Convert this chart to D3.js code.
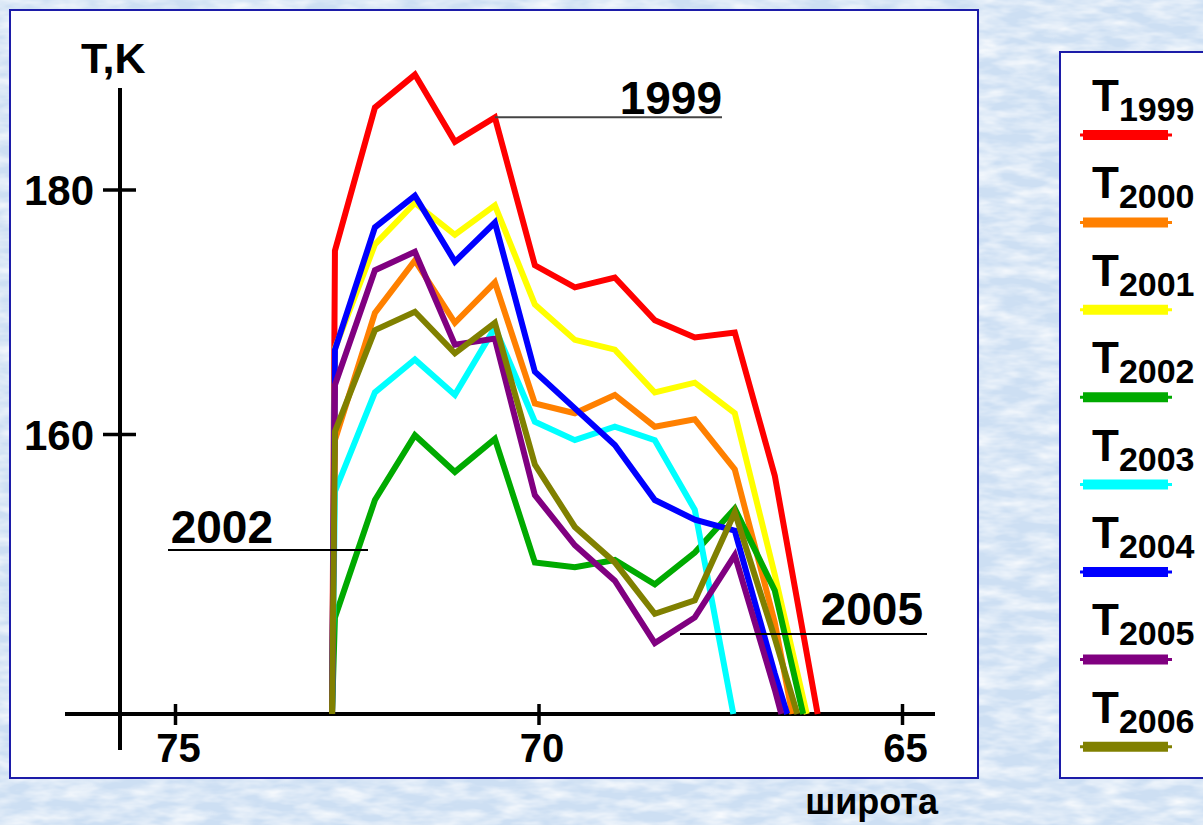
<!DOCTYPE html>
<html>
<head>
<meta charset="utf-8">
<script src="https://cdn.jsdelivr.net/npm/d3@7/dist/d3.min.js"></script>
<style>
  html, body { margin: 0; padding: 0; background: #d3e3f5; }
  svg { display: block; }
  text { font-family: "Liberation Sans", Arial, sans-serif; font-weight: bold; fill: #000; }
</style>
</head>
<body>
<svg id="chart" width="1203" height="825"></svg>
<script>
// Latitude nodes (degrees N) shared by all yearly temperature profiles
const latNodes = [72.8, 72.25, 71.7, 71.15, 70.6, 70.05, 69.5, 68.95, 68.4, 67.85, 67.3, 66.75];

// Yearly temperature profiles, K (null = no value at that node)
const t1999 = [175.0, 186.7, 189.4, 183.9, 185.9, 173.8, 172.0, 172.8, 169.3, 167.9, 168.3, 156.6];
const t2000 = [159.5, 169.9, 174.2, 169.1, 172.4, 162.5, 161.7, 163.2, 160.6, 161.2, 157.1, 144.6];
const t2001 = [167.0, 175.5, 178.9, 176.3, 178.7, 170.6, 167.7, 166.9, 163.4, 164.2, 161.7, 148.5];
const t2002 = [145.0, 154.6, 159.9, 156.9, 159.6, 149.5, 149.1, 149.7, 147.7, 150.3, 153.9, 147.2];
const t2003 = [155.3, 163.4, 166.1, 163.2, 168.7, 161.0, 159.5, 160.6, 159.5, 153.8, null, null];
const t2004 = [166.9, 176.9, 179.5, 174.1, 177.3, 165.1, 162.1, 159.1, 154.6, 153.0, 152.1, 140.4];
const t2005 = [164.0, 173.4, 174.9, 167.3, 167.8, 155.0, 150.9, 148.0, 142.9, 145.0, 150.1, 139.1];
const t2006 = [160.2, 168.5, 170.0, 166.6, 169.1, 157.5, 152.4, 149.5, 145.3, 146.4, 153.6, 143.3];

const years = ["1999", "2000", "2001", "2002", "2003", "2004", "2005", "2006"];
const profiles = [t1999, t2000, t2001, t2002, t2003, t2004, t2005, t2006];

// Where each profile leaves / rejoins the bottom of the temperature range
const startLat = 72.84;
const endLats = [66.16, 66.51, 66.31, 66.36, 67.32, 66.58, 66.66, 66.44];

// Axis ticks
const xTicks = [75, 70, 65];
const yTicks = [160, 180];
const tMin = 137.1;

const colors = ["#ff0000", "#ff8000", "#ffff00", "#00aa00", "#00ffff", "#0000ff", "#800080", "#808000"];

const svg = d3.select("#chart");

// ---- textured light-blue backdrop ----
const defs = svg.append("defs");
const f = defs.append("filter").attr("id", "paper").attr("x", 0).attr("y", 0).attr("width", "100%").attr("height", "100%");
f.append("feTurbulence").attr("type", "fractalNoise").attr("baseFrequency", "0.03 0.09")
  .attr("numOctaves", 3).attr("seed", 7).attr("result", "n");
f.append("feColorMatrix").attr("in", "n").attr("type", "matrix")
  .attr("values", "0 0 0 0 1  0 0 0 0 1  0 0 0 0 1  1.5 0 0 0 -0.5");
svg.append("rect").attr("width", 1203).attr("height", 825).attr("fill", "#cddff3");
svg.append("rect").attr("width", 1203).attr("height", 825).attr("filter", "url(#paper)");

// ---- panels ----
svg.append("rect").attr("x", 10).attr("y", 10).attr("width", 968).attr("height", 768)
  .attr("fill", "#fff").attr("stroke", "#1c1ca8").attr("stroke-width", 2);
svg.append("rect").attr("x", 1060).attr("y", 52).attr("width", 170).attr("height", 726)
  .attr("fill", "#fff").attr("stroke", "#1c1ca8").attr("stroke-width", 2);

// ---- scales ----
const x = d3.scaleLinear().domain([75, 65]).range([175, 902]);
const y = d3.scaleLinear().domain([tMin, 180]).range([714, 189.5]);

// ---- axes ----
const axisY = 714, axisX = 120;
svg.append("line").attr("x1", 65).attr("x2", 935).attr("y1", axisY).attr("y2", axisY)
  .attr("stroke", "#000").attr("stroke-width", 4);
svg.append("line").attr("x1", axisX).attr("x2", axisX).attr("y1", 88).attr("y2", 750)
  .attr("stroke", "#000").attr("stroke-width", 4);

const gx = svg.append("g").attr("transform", `translate(0,${axisY})`)
  .call(d3.axisBottom(x).tickValues(xTicks).tickFormat(d3.format("d")).tickSize(0).tickPadding(0));
gx.select(".domain").remove();
gx.selectAll(".tick line").attr("y1", -10).attr("y2", 11).attr("stroke", "#000").attr("stroke-width", 3.5);
gx.selectAll(".tick text").attr("font-size", 40).attr("font-family", null).attr("fill", "#000")
  .attr("y", 48).attr("dy", 0).attr("dx", 3);

const gy = svg.append("g").attr("transform", `translate(${axisX},0)`)
  .call(d3.axisLeft(y).tickValues(yTicks).tickFormat(d3.format("d")).tickSize(0).tickPadding(26));
gy.select(".domain").remove();
gy.selectAll(".tick line").attr("x1", -17).attr("x2", 16).attr("stroke", "#000").attr("stroke-width", 3.5);
gy.selectAll(".tick text").attr("font-size", 42).attr("font-family", null).attr("fill", "#000").attr("dy", "0.36em");

svg.append("text").attr("x", 81).attr("y", 73).attr("font-size", 43).text("T,K");
svg.append("text").attr("x", 938).attr("y", 814).attr("text-anchor", "end").attr("font-size", 36).text("широта");

// ---- profiles ----
const line = d3.line().x(d => x(d.lat)).y(d => y(d.t)).curve(d3.curveLinear);
profiles.forEach((vals, i) => {
  const pts = [{ lat: startLat, t: tMin }];
  vals.forEach((v, j) => { if (v !== null) pts.push({ lat: latNodes[j], t: v }); });
  pts.push({ lat: endLats[i], t: tMin });
  svg.append("path").datum(pts).attr("d", line)
    .attr("fill", "none").attr("stroke", colors[i]).attr("stroke-width", 6)
    .attr("stroke-linejoin", "miter").attr("stroke-miterlimit", 3);
});

// ---- year call-outs ----
const callouts = [
  { text: "1999", x1: x(latNodes[4]), x2: 722, ly: y(t1999[4]), tx: 722, ty: 114, stroke: "#444" },
  { text: "2002", x1: 168, x2: 368, ly: 550, tx: 273, ty: 543, stroke: "#000" },
  { text: "2005", x1: 680, x2: 927, ly: 634, tx: 923, ty: 625, stroke: "#000" }
];
callouts.forEach(c => {
  svg.append("line").attr("x1", c.x1).attr("x2", c.x2).attr("y1", c.ly).attr("y2", c.ly)
    .attr("stroke", c.stroke).attr("stroke-width", 2);
  svg.append("text").attr("x", c.tx).attr("y", c.ty).attr("text-anchor", "end")
    .attr("font-size", 46).text(c.text);
});

// ---- legend ----
const legendTop = 135, legendStep = 87.4;
years.forEach((yr, i) => {
  const cy = legendTop + i * legendStep;
  const g = svg.append("g");
  const t = g.append("text").attr("x", 1092).attr("y", cy - 24).attr("font-size", 44);
  t.append("tspan").text("T");
  t.append("tspan").attr("font-size", 34).attr("dy", 10).attr("dx", 0).text(yr);
  g.append("line").attr("x1", 1080).attr("x2", 1172).attr("y1", cy).attr("y2", cy)
    .attr("stroke", colors[i]).attr("stroke-width", 3);
  g.append("line").attr("x1", 1083).attr("x2", 1168).attr("y1", cy).attr("y2", cy)
    .attr("stroke", colors[i]).attr("stroke-width", 10);
});
</script>
</body>
</html>
